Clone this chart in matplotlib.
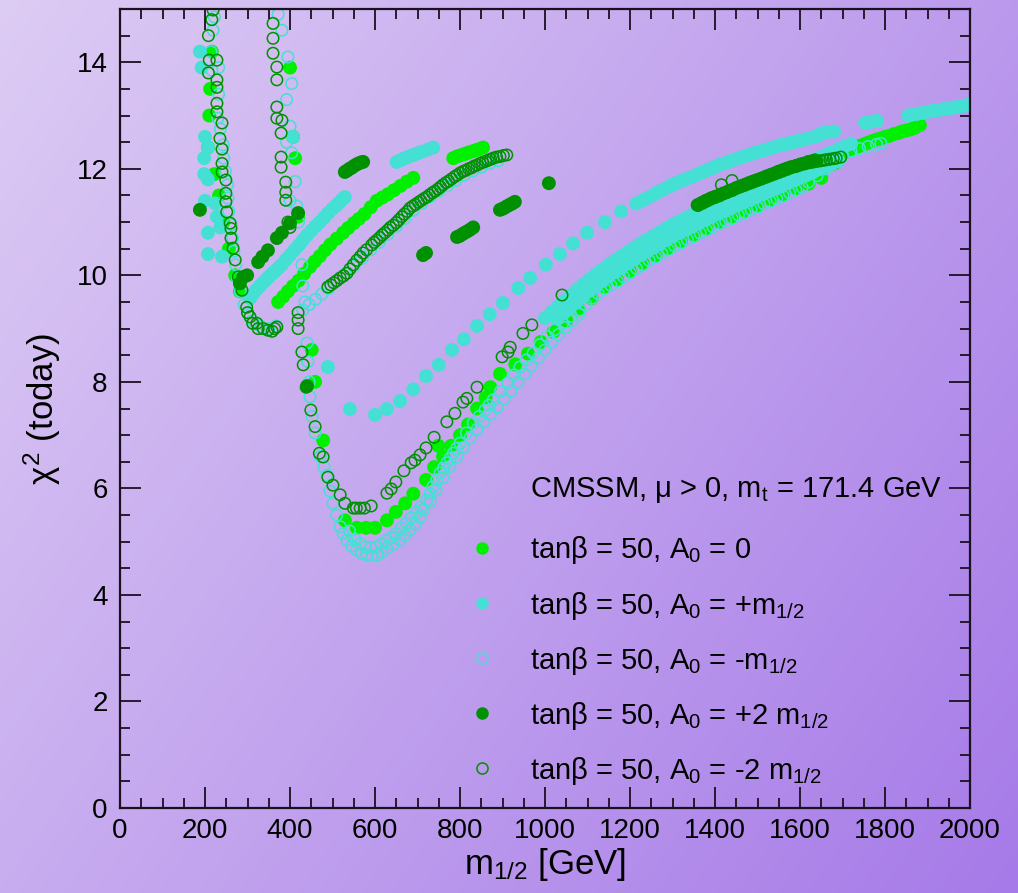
import numpy as np
import matplotlib.pyplot as plt
from matplotlib.lines import Line2D
from matplotlib.ticker import MultipleLocator

plt.rcParams['font.family'] = 'Liberation Sans'
plt.rcParams['mathtext.fontset'] = 'custom'
plt.rcParams['mathtext.rm'] = 'Liberation Sans'
plt.rcParams['mathtext.it'] = 'Liberation Sans'
plt.rcParams['mathtext.sf'] = 'Liberation Sans'

# (m_1/2 [GeV], chi^2), one array per scan
a0_zero = np.array([
    [216, 14.2], [212, 13.5], [210, 13.0], [207, 12.4], [222, 11.9], [233, 11.5],
    [243, 11.0], [256, 10.5], [271, 10.0], [282, 9.7],
    [400, 13.9], [407, 12.6], [412, 12.2], [419, 11.1], [451, 8.6], [459, 8.0], [478, 6.9],
    [529, 5.4], [557, 5.26], [579, 5.26], [600, 5.26], [628, 5.4], [649, 5.56], [671, 5.72],
    [690, 5.9], [720, 6.16], [739, 6.4], [749, 6.8], [760, 6.6], [779, 6.8], [800, 7.0],
    [819, 7.2], [840, 7.5], [860, 7.7], [871, 7.9], [894, 8.15],
    [930, 8.33], [960, 8.53], [990, 8.75], [1020, 8.94], [1050, 9.15], [1080, 9.36],
    [1110, 9.57], [1140, 9.77], [1170, 9.91], [1200, 10.07], [1230, 10.22], [1260, 10.36],
    [1290, 10.5], [1320, 10.63], [1350, 10.75], [1380, 10.87], [1410, 10.99], [1440, 11.09],
    [1470, 11.2], [1500, 11.3], [1530, 11.41], [1560, 11.51], [1590, 11.62], [1620, 11.72],
    [1650, 11.83], [1680, 12.1], [1690, 12.2], [1700, 12.28], [1710, 12.33], [1720, 12.37],
    [1730, 12.4], [1740, 12.43], [1750, 12.46], [1760, 12.49], [1770, 12.52], [1780, 12.55],
    [1790, 12.57], [1800, 12.6], [1810, 12.62], [1820, 12.65], [1830, 12.67], [1840, 12.7],
    [1850, 12.72], [1860, 12.74], [1870, 12.77], [1882, 12.82],
    [372, 9.5], [384, 9.6], [395, 9.7], [407, 9.8], [420, 9.9], [433, 10.03], [447, 10.16],
    [458, 10.26], [470, 10.36], [482, 10.47], [495, 10.58], [510, 10.69], [525, 10.8],
    [537, 10.89], [550, 10.98], [562, 11.06], [575, 11.15], [590, 11.28], [604, 11.4],
    [617, 11.46], [630, 11.52], [645, 11.6], [660, 11.68], [675, 11.76], [690, 11.83],
    [784, 12.2], [792, 12.23], [800, 12.25], [808, 12.27], [815, 12.29], [822, 12.31],
    [830, 12.33], [838, 12.35], [845, 12.37], [854, 12.4],
])

a0_plus = np.array([
    [188, 14.2], [192, 13.9], [200, 12.6], [207, 12.4], [198, 12.2], [198, 11.9], [207, 11.8],
    [200, 11.4], [224, 11.35], [228, 11.1], [207, 10.8], [207, 10.4], [240, 10.35], [236, 10.9],
    [407, 12.6],
    [306, 9.57], [313, 9.65], [320, 9.72], [328, 9.79], [335, 9.85], [343, 9.91], [350, 9.97],
    [358, 10.03], [365, 10.08], [373, 10.14], [381, 10.2], [390, 10.29], [400, 10.38],
    [410, 10.47], [420, 10.56], [430, 10.66], [440, 10.75], [450, 10.84], [460, 10.92],
    [470, 11.0], [480, 11.08], [490, 11.17], [500, 11.25], [508, 11.31], [515, 11.36],
    [522, 11.42], [529, 11.47],
    [651, 12.13], [660, 12.16], [670, 12.2], [680, 12.23], [690, 12.26], [700, 12.29],
    [710, 12.32], [724, 12.36], [737, 12.4],
    [489, 8.28], [541, 7.49], [600, 7.38], [628, 7.49], [659, 7.64], [690, 7.86], [720, 8.11],
    [750, 8.32], [781, 8.6], [809, 8.8], [840, 9.05], [870, 9.27], [901, 9.48], [937, 9.76],
    [965, 9.95], [1002, 10.2], [1035, 10.4], [1066, 10.6], [1099, 10.8], [1141, 11.0], [1179, 11.2],
    [1215, 11.35], [1228, 11.4], [1240, 11.45], [1252, 11.5], [1265, 11.56], [1278, 11.61],
    [1290, 11.66], [1300, 11.7], [1308, 11.73], [1320, 11.77], [1330, 11.8], [1343, 11.84],
    [1355, 11.88], [1368, 11.93], [1380, 11.97], [1390, 12.0], [1400, 12.04], [1412, 12.08],
    [1425, 12.11], [1437, 12.15], [1450, 12.18], [1462, 12.22], [1475, 12.25], [1485, 12.28],
    [1494, 12.3], [1507, 12.33], [1520, 12.36], [1532, 12.39], [1545, 12.42], [1557, 12.45],
    [1570, 12.47], [1578, 12.49], [1586, 12.5], [1598, 12.53], [1610, 12.55], [1622, 12.58],
    [1635, 12.6], [1645, 12.64], [1652, 12.67], [1665, 12.69], [1680, 12.7],
    [1753, 12.86], [1765, 12.88], [1781, 12.9],
    [1855, 13.0], [1865, 13.02], [1875, 13.03], [1888, 13.05], [1900, 13.07], [1912, 13.09],
    [1925, 13.1], [1938, 13.12], [1950, 13.13], [1962, 13.15], [1975, 13.17], [1985, 13.18],
    [1995, 13.2],
    # lower band, upper row
    [1000, 9.2], [1015, 9.31], [1030, 9.41], [1045, 9.52], [1060, 9.62], [1075, 9.73],
    [1090, 9.83], [1105, 9.93], [1120, 10.02], [1135, 10.11], [1150, 10.2], [1165, 10.28],
    [1180, 10.36], [1195, 10.44], [1210, 10.52], [1225, 10.6], [1240, 10.67], [1255, 10.74],
    [1270, 10.81], [1285, 10.88], [1300, 10.95], [1315, 11.01], [1330, 11.07], [1345, 11.13],
    [1360, 11.19], [1375, 11.25], [1390, 11.31], [1405, 11.37], [1420, 11.42], [1435, 11.47],
    [1450, 11.53], [1465, 11.58], [1480, 11.63], [1495, 11.68], [1510, 11.74], [1525, 11.79],
    [1540, 11.84], [1555, 11.89], [1570, 11.95], [1585, 12.0], [1600, 12.05], [1615, 12.1],
    [1630, 12.15], [1645, 12.21], [1660, 12.26], [1675, 12.31], [1690, 12.37], [1705, 12.42],
    [1720, 12.47],
    # lower band, middle row
    [1030, 9.19], [1045, 9.3], [1060, 9.4], [1075, 9.51], [1090, 9.61], [1105, 9.71],
    [1120, 9.8], [1135, 9.89], [1150, 9.98], [1165, 10.06], [1180, 10.14], [1195, 10.22],
    [1210, 10.3], [1225, 10.38], [1240, 10.45], [1255, 10.52], [1270, 10.59], [1285, 10.66],
    [1300, 10.73], [1315, 10.79], [1330, 10.85], [1345, 10.91], [1360, 10.97], [1375, 11.03],
    [1390, 11.09], [1405, 11.15], [1420, 11.2], [1435, 11.25], [1450, 11.31], [1465, 11.36],
    [1480, 11.41], [1495, 11.46], [1510, 11.52], [1525, 11.57], [1540, 11.62], [1555, 11.67],
    [1570, 11.73], [1585, 11.78], [1600, 11.83], [1615, 11.88], [1630, 11.93], [1645, 11.99],
    [1660, 12.04], [1675, 12.09], [1690, 12.15],
])

a0_minus = np.array([
    [222, 14.85], [219, 14.6], [214, 14.2], [216, 13.85], [232, 13.9], [232, 13.4], [230, 12.95],
    [236, 12.75], [243, 12.45], [244, 12.2], [248, 11.95], [253, 11.7], [254, 11.45], [256, 11.2],
    [262, 10.95], [265, 10.7], [268, 10.45], [272, 10.2], [276, 9.95], [283, 9.7], [292, 9.45],
    [300, 9.3], [312, 9.15], [330, 9.05], [350, 9.0], [368, 9.05],
    [372, 14.9], [381, 14.6], [395, 14.1], [404, 13.6], [392, 13.3], [400, 12.8], [392, 12.5],
    [404, 12.3], [412, 11.76], [400, 11.4], [416, 11.3], [420, 11.0], [425, 10.6], [428, 10.2],
    [430, 9.8], [435, 9.5], [440, 8.73], [442, 8.38], [445, 8.0], [447, 7.72], [452, 7.35],
    [459, 7.04], [471, 6.6], [480, 6.4], [487, 6.25], [494, 5.95], [501, 5.72], [510, 5.5],
    [518, 5.28], [525, 5.15], [534, 5.03], [545, 4.92], [557, 4.84], [569, 4.78], [581, 4.75],
    [593, 4.74], [605, 4.75], [616, 4.8], [628, 4.88], [643, 4.95], [659, 5.03], [670, 5.12],
    [682, 5.22], [694, 5.33], [706, 5.46], [714, 5.6], [722, 5.78], [729, 5.9], [736, 6.03],
    [745, 6.16], [753, 6.29], [761, 6.38], [769, 6.48], [777, 6.57], [784, 6.66], [792, 6.75],
    [800, 6.85], [815, 7.04], [831, 7.23], [845, 7.35], [859, 7.47], [868, 7.56], [878, 7.66],
    [895, 7.82], [913, 7.98], [927, 8.13], [941, 8.28], [956, 8.41], [972, 8.54], [988, 8.7],
    [1005, 8.85], [1023, 8.98], [1042, 9.1], [1062, 9.23], [1082, 9.35],
    # second row through the valley and up the rise
    [540, 5.2], [552, 5.05], [565, 4.96], [578, 4.9], [590, 4.89], [602, 4.9], [614, 4.95],
    [626, 5.02], [638, 5.08], [650, 5.15], [662, 5.25], [674, 5.35], [686, 5.45], [698, 5.55],
    [708, 5.65], [730, 5.75], [744, 5.97], [760, 6.2], [776, 6.41], [792, 6.59], [808, 6.77],
    [824, 6.95], [840, 7.11], [856, 7.25], [872, 7.39], [888, 7.53], [904, 7.68], [920, 7.83],
    [936, 7.99], [952, 8.15], [968, 8.3], [984, 8.45], [1000, 8.6], [1016, 8.75], [1032, 8.89],
    [1048, 9.02], [1064, 9.15], [1080, 9.27],
    # lower band
    [1096, 9.45], [1110, 9.57], [1125, 9.66], [1140, 9.75], [1155, 9.81], [1170, 9.89],
    [1185, 9.97], [1200, 10.05], [1215, 10.13], [1230, 10.2], [1245, 10.28], [1260, 10.34],
    [1275, 10.41], [1290, 10.48], [1305, 10.55], [1320, 10.61], [1335, 10.67], [1350, 10.73],
    [1365, 10.79], [1380, 10.85], [1395, 10.91], [1410, 10.97], [1425, 11.02], [1440, 11.07],
    [1455, 11.13], [1470, 11.18], [1485, 11.23], [1500, 11.28], [1515, 11.34], [1530, 11.39],
    [1545, 11.44], [1560, 11.49], [1575, 11.55], [1590, 11.6], [1605, 11.65], [1620, 11.75],
    [1640, 11.87], [1660, 12.0], [1680, 12.12], [1700, 12.25], [1720, 12.33], [1740, 12.38],
    [1760, 12.42], [1780, 12.46], [1790, 12.48],
    # upper curve
    [430, 9.35], [445, 9.45], [460, 9.55], [475, 9.65], [490, 9.75], [510, 9.9], [530, 10.03],
    [550, 10.17], [570, 10.32], [590, 10.48], [610, 10.62], [630, 10.77], [650, 10.92],
    [670, 11.07], [690, 11.22], [710, 11.35], [730, 11.47], [750, 11.58], [770, 11.68],
    [790, 11.78], [810, 11.88], [830, 11.96], [850, 12.03], [870, 12.1], [890, 12.15],
])

a0_plus2 = np.array([
    [188, 11.23], [282, 9.85], [290, 9.97], [299, 10.0], [325, 10.25], [335, 10.35], [348, 10.47],
    [369, 10.7], [381, 10.8], [400, 10.98], [419, 11.17], [440, 7.92],
    [529, 11.94], [535, 11.97], [540, 12.0], [545, 12.02], [550, 12.05], [556, 12.08],
    [561, 12.1], [567, 12.12], [572, 12.13],
    [713, 10.38], [720, 10.42], [793, 10.72], [799, 10.74], [805, 10.77], [811, 10.8],
    [818, 10.83], [824, 10.86], [831, 10.9],
    [894, 11.23], [900, 11.25], [905, 11.27], [911, 11.3], [918, 11.33], [923, 11.35], [929, 11.38],
    [1009, 11.73],
    [1360, 11.32], [1370, 11.36], [1380, 11.4], [1390, 11.44], [1400, 11.47], [1410, 11.5],
    [1420, 11.54], [1430, 11.57], [1440, 11.6], [1450, 11.64], [1460, 11.67], [1470, 11.7],
    [1480, 11.73], [1490, 11.76], [1500, 11.79], [1510, 11.82], [1520, 11.85], [1530, 11.88],
    [1540, 11.91], [1550, 11.94], [1560, 11.97], [1570, 12.0], [1580, 12.03], [1590, 12.05],
    [1600, 12.08], [1610, 12.1], [1620, 12.13], [1628, 12.14], [1635, 12.16],
])

a0_minus2 = np.array([
    [219, 14.98], [216, 14.8], [208, 14.5], [210, 14.04], [228, 14.04], [208, 13.8], [228, 13.67],
    [228, 13.53], [228, 13.23], [228, 13.07], [240, 12.86], [235, 12.57], [240, 12.37], [240, 12.1],
    [240, 11.94], [249, 11.79], [249, 11.54], [249, 11.38], [251, 11.19], [259, 10.98], [261, 10.88],
    [261, 10.7], [266, 10.51], [271, 10.29], [278, 9.97], [287, 9.72], [298, 9.4], [306, 9.22],
    [300, 9.3], [312, 9.1], [322, 9.1], [325, 9.0], [337, 9.0], [348, 8.97], [358, 8.95],
    [364, 9.0], [369, 9.03],
    [360, 14.73], [360, 14.45], [360, 14.17], [369, 13.91], [369, 13.67], [369, 13.16], [369, 12.95],
    [381, 12.91], [379, 12.67], [379, 12.22], [379, 12.03], [390, 11.75], [390, 11.56], [390, 11.41],
    [395, 11.0], [400, 10.9], [419, 9.3], [419, 9.16], [419, 9.0], [428, 8.56], [431, 8.32],
    [438, 7.9], [449, 7.47], [459, 7.16], [469, 6.66], [478, 6.59], [489, 6.21], [501, 6.06],
    [518, 5.88], [529, 5.72], [549, 5.63], [556, 5.63], [565, 5.63], [575, 5.63], [591, 5.67],
    [628, 5.91], [638, 5.99], [649, 6.12], [668, 6.33], [685, 6.48], [694, 6.53], [706, 6.63],
    [720, 6.76], [739, 6.96], [769, 7.25], [788, 7.41], [807, 7.62], [816, 7.69], [840, 7.9],
    [899, 8.47], [913, 8.56], [918, 8.65], [948, 8.91], [969, 9.07], [1040, 9.63],
    [489, 9.78], [496, 9.82], [503, 9.86], [510, 9.9], [518, 9.95], [526, 9.99], [534, 10.04],
    [541, 10.12], [549, 10.2], [557, 10.28], [565, 10.35], [572, 10.42], [580, 10.48],
    [592, 10.57], [598, 10.62], [604, 10.66], [611, 10.71], [617, 10.76], [623, 10.8],
    [630, 10.85], [636, 10.9], [643, 10.94], [650, 10.99], [656, 11.04], [663, 11.1],
    [669, 11.15], [676, 11.2], [682, 11.26], [689, 11.3], [695, 11.33], [702, 11.37],
    [708, 11.4], [715, 11.44], [722, 11.47], [728, 11.51], [735, 11.55], [741, 11.58],
    [748, 11.62], [754, 11.66], [760, 11.7], [767, 11.74], [773, 11.77], [780, 11.81],
    [787, 11.85], [793, 11.88], [800, 11.92], [807, 11.95], [813, 11.97], [820, 12.0],
    [827, 12.02], [833, 12.05], [840, 12.07], [847, 12.1], [853, 12.12], [860, 12.14],
    [866, 12.16], [872, 12.18], [878, 12.2], [886, 12.22], [894, 12.23], [902, 12.25], [910, 12.26],
    [1358, 11.32], [1365, 11.35], [1372, 11.38], [1379, 11.41], [1386, 11.43], [1393, 11.46],
    [1400, 11.48], [1407, 11.5], [1414, 11.52], [1421, 11.54], [1428, 11.56], [1435, 11.59],
    [1442, 11.61], [1449, 11.64], [1456, 11.66], [1463, 11.68], [1470, 11.7], [1477, 11.73],
    [1484, 11.75], [1491, 11.77], [1499, 11.79], [1506, 11.81], [1513, 11.83], [1520, 11.86],
    [1527, 11.88], [1534, 11.9], [1541, 11.92], [1548, 11.95], [1555, 11.97], [1562, 11.99],
    [1569, 12.01], [1576, 12.03], [1583, 12.04], [1590, 12.06], [1597, 12.07], [1604, 12.09],
    [1611, 12.1], [1618, 12.11], [1625, 12.12], [1632, 12.13], [1640, 12.14], [1648, 12.15],
    [1655, 12.16], [1662, 12.17], [1670, 12.18], [1678, 12.19], [1685, 12.2], [1696, 12.22],
    [1415, 11.7], [1440, 11.78],
])

labels = [r'tan$\beta$ = 50, A$_0$ = 0',
          r'tan$\beta$ = 50, A$_0$ = +m$_{1/2}$',
          r'tan$\beta$ = 50, A$_0$ = -m$_{1/2}$',
          r'tan$\beta$ = 50, A$_0$ = +2 m$_{1/2}$',
          r'tan$\beta$ = 50, A$_0$ = -2 m$_{1/2}$']
header = r'CMSSM, $\mu$ > 0, m$_\mathrm{t}$ = 171.4 GeV'

lime = '#00f000'
turq = '#44e0d4'
dgreen = '#009100'

fig = plt.figure(figsize=(10.18, 8.93), dpi=100)

# purple gradient background
bg = fig.add_axes([0, 0, 1, 1], zorder=-10)
yy, xx = np.mgrid[0:1:300j, 0:1:300j]
t = (0.62 * xx + 0.38 * yy)
c0 = np.array([221, 204, 244]) / 255.
c1 = np.array([166, 122, 232]) / 255.
img = c0 + (c1 - c0) * t[..., None]
bg.imshow(img, extent=[0, 1, 0, 1], aspect='auto', origin='upper')
bg.axis('off')

ax = fig.add_axes([0.1179, 0.0952, 0.835, 0.8947])
ax.set_facecolor('none')

fs, os_ = 100, 68
ax.scatter(a0_zero[:, 0], a0_zero[:, 1], s=fs, c=lime, edgecolors='none')
ax.scatter(a0_plus[:, 0], a0_plus[:, 1], s=fs, c=turq, edgecolors='none')
ax.scatter(a0_minus[:, 0], a0_minus[:, 1], s=os_, facecolors='none', edgecolors=turq, linewidths=1.1)
ax.scatter(a0_plus2[:, 0], a0_plus2[:, 1], s=fs, c=dgreen, edgecolors='none')
ax.scatter(a0_minus2[:, 0], a0_minus2[:, 1], s=os_, facecolors='none', edgecolors=dgreen, linewidths=1.1)

ax.set_xlim(0, 2000)
ax.set_ylim(0, 15)
ax.xaxis.set_major_locator(MultipleLocator(200))
ax.xaxis.set_minor_locator(MultipleLocator(50))
ax.yaxis.set_major_locator(MultipleLocator(2))
ax.yaxis.set_minor_locator(MultipleLocator(0.5))
ax.tick_params(which='both', direction='in', top=True, right=True, width=1.3, color='#1a1020')
ax.tick_params(which='major', length=15, labelsize=20)
ax.tick_params(which='minor', length=7.5)
ax.tick_params(axis='x', pad=7)
ax.tick_params(axis='y', pad=9)
for sp in ax.spines.values():
    sp.set_linewidth(1.6)
    sp.set_color('#1a1020')

ax.set_xlabel(r'm$_{1/2}$ [GeV]', fontsize=25, labelpad=2)
ax.set_ylabel(r'$\chi^2$ (today)', fontsize=25, labelpad=10)

ax.text(0.4824, 0.389, header, transform=ax.transAxes, fontsize=21, ha='left', va='baseline')

handles = [
    Line2D([], [], ls='none', marker='o', ms=9, mfc=lime, mec='none'),
    Line2D([], [], ls='none', marker='o', ms=9, mfc=turq, mec='none'),
    Line2D([], [], ls='none', marker='o', ms=8, mfc='none', mec=turq, mew=1.1),
    Line2D([], [], ls='none', marker='o', ms=9, mfc=dgreen, mec='none'),
    Line2D([], [], ls='none', marker='o', ms=8, mfc='none', mec=dgreen, mew=1.1),
]
ax.legend(handles, labels, loc='upper left', bbox_to_anchor=(0.4087, 0.3423), frameon=False,
          fontsize=21, handlelength=1.0, handletextpad=1.144, labelspacing=0.79,
          borderpad=0, borderaxespad=0)

fig.savefig('out.png', dpi=100)
